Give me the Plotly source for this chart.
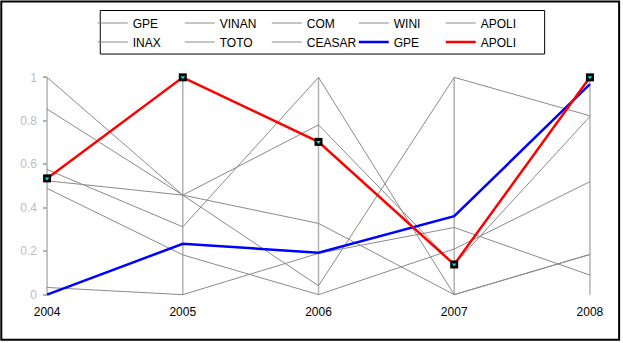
import plotly.graph_objects as go

# ---------------- data ----------------
YEARS = [2004, 2005, 2006, 2007, 2008]
GPE = [0.0, 0.234, 0.193, 0.361, 0.969]
VINAN = [0.576, 0.312, 1.0, 0.0, 0.185]
COM = [0.489, 0.183, 0.0, 0.21, 0.52]
WINI = [0.033, 0.0, 0.19, 0.309, 0.09]
APOLI = [0.535, 1.0, 0.703, 0.139, 1.0]
INAX = [1.0, 0.458, 0.781, 0.139, 0.82]
TOTO = [0.854, 0.458, 0.328, 0.0, 0.185]
CEASAR = [0.524, 0.458, 0.041, 1.0, 0.823]
Y_TICKS = [0, 0.2, 0.4, 0.6, 0.8, 1]
Y_TICK_LABELS = ["0", "0.2", "0.4", "0.6", "0.8", "1"]

GRAY_NAMES = ["GPE", "VINAN", "COM", "WINI", "APOLI", "INAX", "TOTO", "CEASAR"]
GRAY_SERIES = [GPE, VINAN, COM, WINI, APOLI, INAX, TOTO, CEASAR]

# ---------------- layout geometry (pixels) ----------------
FIG_W, FIG_H = 623, 343
X_FIRST_PX, X_LAST_PX = 47.3, 590.3
Y_ONE_PX, Y_ZERO_PX = 77.3, 294.5
XPAD, YPAD = 0.03, 0.02
ppx = (X_LAST_PX - X_FIRST_PX) / (YEARS[-1] - YEARS[0])
ppy = (Y_ZERO_PX - Y_ONE_PX)
L = X_FIRST_PX - XPAD * ppx
R = FIG_W - (X_LAST_PX + XPAD * ppx)
T = Y_ONE_PX - YPAD * ppy
B = FIG_H - (Y_ZERO_PX + YPAD * ppy)
PW = FIG_W - L - R
PH = FIG_H - T - B


def px_x(px):
    return (px - L) / PW


def px_y(py):
    return (FIG_H - B - py) / PH


FONT = "Liberation Sans, Arial, sans-serif"
GRAY = "#8a8a8a"
AXIS_GRAY = "#b2b2b2"

fig = go.Figure()

for i, (name, vals) in enumerate(zip(GRAY_NAMES, GRAY_SERIES)):
    fig.add_trace(go.Scatter(
        x=YEARS, y=vals, name=name, mode="lines",
        line=dict(color=GRAY, width=1),
        legend="legend" if i < 5 else "legend2",
        hoverinfo="skip",
    ))

fig.add_trace(go.Scatter(
    x=YEARS, y=GPE, name="GPE", mode="lines",
    line=dict(color="#0000ff", width=2.5), legend="legend2",
))
fig.add_trace(go.Scatter(
    x=YEARS, y=APOLI, name="APOLI", mode="lines",
    line=dict(color="#ff0000", width=2.5), legend="legend2",
))
fig.add_trace(go.Scatter(
    x=YEARS, y=APOLI, mode="markers", showlegend=False, cliponaxis=False,
    marker=dict(symbol="square", size=8, color="#000000", line=dict(width=0)),
))
fig.add_trace(go.Scatter(
    x=YEARS, y=APOLI, mode="markers", showlegend=False, cliponaxis=False,
    marker=dict(symbol="triangle-down", size=4, color="#00e5e5", line=dict(width=0)),
))

# year axes (vertical lines from 0 to 1)
for yr in YEARS:
    fig.add_shape(type="line", xref="x", yref="y", x0=yr, x1=yr,
                  y0=Y_TICKS[0], y1=Y_TICKS[-1], layer="below",
                  line=dict(color=AXIS_GRAY, width=1.5))

# outer chart border
fig.add_shape(type="rect", xref="paper", yref="paper",
              x0=px_x(1.5), x1=px_x(619.5), y0=px_y(339.5), y1=px_y(1.5),
              line=dict(color="#000000", width=2), layer="above")
# legend box
fig.add_shape(type="rect", xref="paper", yref="paper",
              x0=px_x(100.5), x1=px_x(545), y0=px_y(54), y1=px_y(10.5),
              line=dict(color="#000000", width=1), layer="above")

legend_common = dict(
    orientation="h", xanchor="left", yanchor="top",
    entrywidth=42, entrywidthmode="pixels",
    font=dict(family=FONT, size=12, color="#000000"),
    bgcolor="rgba(0,0,0,0)", borderwidth=0, itemclick=False,
    tracegroupgap=0,
)

fig.update_layout(
    width=FIG_W, height=FIG_H,
    margin=dict(l=L, r=R, t=T, b=B, pad=0, autoexpand=False),
    paper_bgcolor="#ffffff", plot_bgcolor="#ffffff",
    font=dict(family=FONT, size=12, color="#000000"),
    showlegend=True,
    legend=dict(x=px_x(93), y=px_y(8.5), **legend_common),
    legend2=dict(x=px_x(93), y=px_y(27.5), **legend_common),
    xaxis=dict(
        range=[YEARS[0] - XPAD, YEARS[-1] + XPAD],
        tickmode="array", tickvals=YEARS, ticktext=[str(y) for y in YEARS],
        showgrid=False, zeroline=False, showline=False, ticks="",
        tickfont=dict(family=FONT, size=12, color="#000000"),
        ticklabelstandoff=4, fixedrange=True,
    ),
    yaxis=dict(
        range=[-YPAD, 1 + YPAD],
        tickmode="array", tickvals=Y_TICKS, ticktext=Y_TICK_LABELS,
        showgrid=False, zeroline=False, showline=False,
        ticks="inside", ticklen=4, tickwidth=1.5, tickcolor=AXIS_GRAY,
        tickfont=dict(family=FONT, size=12, color="#bdbdbd"),
        ticklabelstandoff=5, fixedrange=True,
    ),
)

fig.write_html("out.html")
